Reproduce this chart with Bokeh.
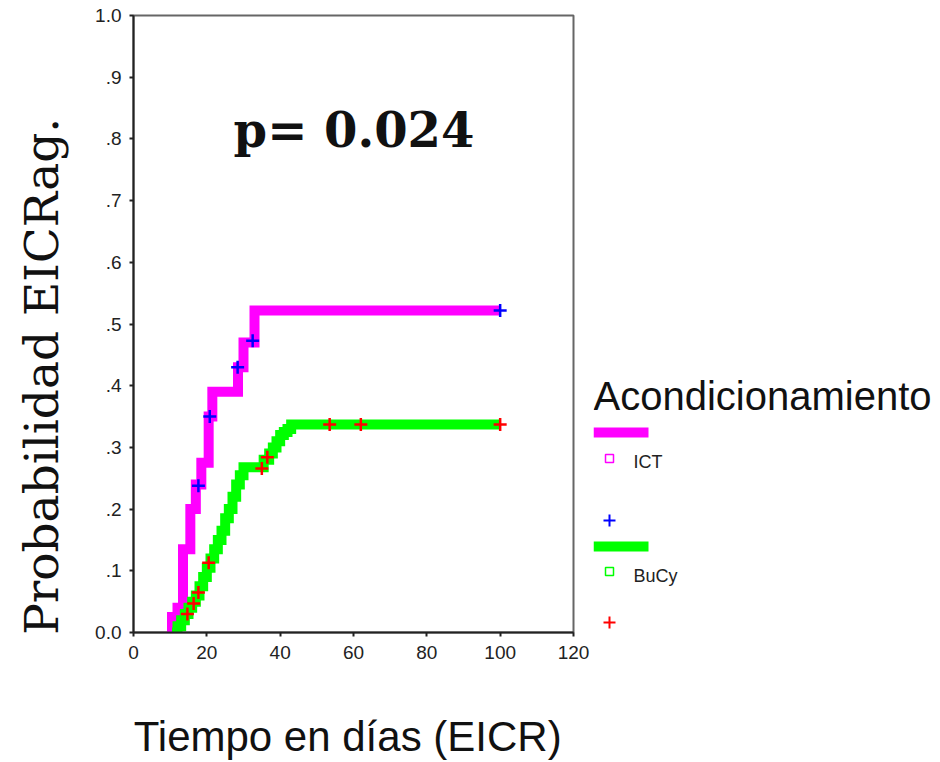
from bokeh.plotting import figure
from bokeh.models import Range1d, FixedTicker, Label
from bokeh.layouts import row
from bokeh.embed import file_html
from bokeh.resources import INLINE

# ---------------- data ----------------
ict_time = [10, 10.5, 12, 13.5, 15.5, 17, 18.5, 20.5, 21.5, 28.5, 30, 33, 100]
ict_prob = [0.0, 0.025, 0.04, 0.135, 0.2, 0.24, 0.275, 0.35, 0.39, 0.43, 0.47, 0.522, 0.522]
ict_cens_time = [17.7, 20.8, 28.4, 32.5, 100]
ict_cens_prob = [0.238, 0.35, 0.43, 0.473, 0.522]

bucy_time = [10.5, 12, 13, 14, 15, 16, 17, 18, 19, 20, 21, 22, 23, 24, 25, 26, 27, 28, 29, 30,
             35.5, 37, 38, 39, 40, 41, 42, 43, 100]
bucy_prob = [0.0, 0.01, 0.02, 0.03, 0.04, 0.05, 0.06, 0.075, 0.09, 0.105, 0.12, 0.135, 0.15, 0.165,
             0.185, 0.2, 0.22, 0.24, 0.255, 0.268, 0.28, 0.29, 0.3, 0.31, 0.32, 0.325, 0.33, 0.337, 0.337]
bucy_cens_time = [14.7, 16.4, 17.7, 20.5, 35, 36.5, 53.5, 62, 100]
bucy_cens_prob = [0.03, 0.047, 0.065, 0.113, 0.266, 0.284, 0.337, 0.337, 0.337]

x_ticks = [0, 20, 40, 60, 80, 100, 120]
y_ticks = [0.0, 0.1, 0.2, 0.3, 0.4, 0.5, 0.6, 0.7, 0.8, 0.9, 1.0]
y_tick_labels = ["0.0", ".1", ".2", ".3", ".4", ".5", ".6", ".7", ".8", ".9", "1.0"]

x_title = "Tiempo en días (EICR)"
y_title = "Probabilidad EICRag."
legend_title = "Acondicionamiento"
group_labels = ["ICT", "BuCy"]
group_colors = ["#FF00FF", "#00FF00"]
cens_colors = ["#0000FF", "#FF0000"]
p_text = "p= 0.024"

# ---------------- main plot ----------------
p = figure(width=593, height=762, x_range=Range1d(0, 120), y_range=Range1d(0, 1),
           toolbar_location=None, output_backend="svg",
           min_border_left=133, min_border_right=20, min_border_top=15, min_border_bottom=130)
p.xgrid.visible = False
p.ygrid.visible = False
p.outline_line_color = "#666666"
p.outline_line_width = 2
p.background_fill_color = "white"
p.border_fill_color = "white"

p.step(ict_time, ict_prob, mode="after", line_color=group_colors[0], line_width=10, line_join="miter")
p.step(bucy_time, bucy_prob, mode="after", line_color=group_colors[1], line_width=10, line_join="miter")
p.scatter(ict_cens_time, ict_cens_prob, marker="cross", size=13, line_width=2.5, line_color=cens_colors[0])
p.scatter(bucy_cens_time, bucy_cens_prob, marker="cross", size=13, line_width=2.5, line_color=cens_colors[1])

p.xaxis.ticker = FixedTicker(ticks=x_ticks)
p.yaxis.ticker = FixedTicker(ticks=y_ticks)
p.yaxis.major_label_overrides = {v: s for v, s in zip(y_ticks, y_tick_labels)}
for ax in (p.xaxis, p.yaxis):
    ax.minor_tick_line_color = None
    ax.major_tick_in = 0
    ax.major_tick_out = 4
    ax.major_tick_line_color = "#222222"
    ax.major_tick_line_width = 2
    ax.axis_line_color = "#222222"
    ax.axis_line_width = 2
    ax.major_label_text_font = "Liberation Sans"
    ax.major_label_text_color = "#222222"
    ax.major_label_text_font_size = "19px"
    ax.major_label_standoff = 8
p.xaxis.major_label_standoff = 9

# a trailing no-break space nudges the centred title slightly left, as in the original
p.xaxis.axis_label = x_title + "\u00a0"
p.xaxis.axis_label_text_font = "Liberation Sans"
p.xaxis.axis_label_text_font_style = "normal"
p.xaxis.axis_label_text_font_size = "42px"
p.xaxis.axis_label_text_color = "#111111"
p.xaxis.axis_label_standoff = 51

# trailing no-break spaces shift the centred title downwards, as in the original
p.yaxis.axis_label = y_title + "\u00a0" * 7
p.yaxis.axis_label_text_font = "DejaVu Serif"
p.yaxis.axis_label_text_font_style = "normal"
p.yaxis.axis_label_text_font_size = "47px"
p.yaxis.axis_label_text_color = "#111111"
p.yaxis.axis_label_standoff = 23

plab = Label(x=27.3, y=0.814, text=p_text, text_align="left", text_baseline="middle",
             text_font="DejaVu Serif", text_font_style="bold", text_font_size="48px",
             text_color="#111111")
p.add_layout(plab)

# ---------------- legend panel (pixel coordinates, frame aligned with main plot) ----------------
lg = figure(width=347, height=762, x_range=Range1d(13, 360), y_range=Range1d(632, 15),
            toolbar_location=None, output_backend="svg",
            min_border_left=0, min_border_right=0, min_border_top=15, min_border_bottom=130,
            x_axis_location=None, y_axis_location=None)
lg.xgrid.visible = False
lg.ygrid.visible = False
lg.outline_line_color = None

lg.text(x=[13], y=[395], text=[legend_title], text_font={"value": "Liberation Sans"},
        text_font_size="40px", text_baseline="middle", text_align="left", text_color="#111111")

line_y = [432, 546]
sq_y = [458, 571]
lab_y = [461, 575]
plus_y = [520, 622]
for i in range(2):
    lg.segment(x0=[13], y0=[line_y[i]], x1=[68], y1=[line_y[i]], line_color=group_colors[i], line_width=10)
    lg.scatter(x=[29], y=[sq_y[i]], marker="square", size=8, fill_color=None,
               line_color=group_colors[i], line_width=1.5)
    lg.text(x=[53], y=[lab_y[i]], text=[group_labels[i]], text_font={"value": "Liberation Sans"},
            text_font_size="18px", text_baseline="middle", text_align="left", text_color="#222222")
    lg.scatter(x=[29], y=[plus_y[i]], marker="cross", size=12, line_width=2,
               line_color=cens_colors[i])

layout = row(p, lg, spacing=0)
open("out.html", "w").write(file_html(layout, INLINE))
